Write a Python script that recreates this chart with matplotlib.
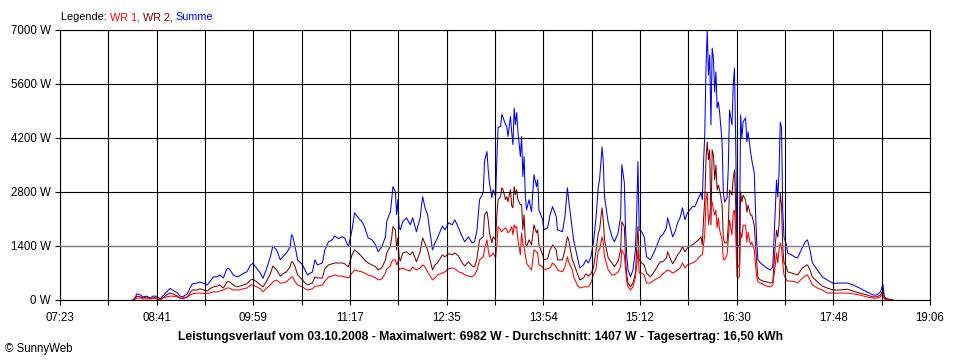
import matplotlib
matplotlib.use("Agg")
import matplotlib.pyplot as plt
import numpy as np

plt.rcParams['font.family'] = ['Liberation Sans', 'DejaVu Sans']

times = [
    "08:22","08:24","08:25","08:28","08:30","08:33","08:36","08:38","08:41","08:44",
    "08:46","08:49","08:52","08:54","08:58","09:00","09:02","09:06","09:08","09:10",
    "09:14","09:16","09:19","09:22","09:24","09:27","09:30","09:32","09:35","09:38",
    "09:40","09:43","09:46","09:48","09:51","09:54","09:57","09:59","10:02","10:05",
    "10:07","10:10","10:13","10:15","10:18","10:21","10:23","10:26","10:29","10:30",
    "10:31","10:33","10:35","10:39","10:41","10:43","10:47","10:49","10:51","10:55",
    "10:57","11:00","11:03","11:05","11:08","11:11","11:13","11:16","11:19","11:21",
    "11:24","11:27","11:29","11:32","11:35","11:38","11:40","11:43","11:46","11:47",
    "11:50","11:51","11:52","11:54","11:55","11:56","11:57","11:58","12:00","12:03",
    "12:06","12:08","12:11","12:14","12:16","12:18","12:20","12:24","12:26","12:28",
    "12:32","12:34","12:37","12:40","12:42","12:45","12:48","12:50","12:53","12:56",
    "12:58","13:00","13:02","13:05","13:06","13:08","13:09","13:10","13:12","13:13",
    "13:15","13:16","13:17","13:19","13:20","13:21","13:23","13:24","13:25","13:27",
    "13:28","13:29","13:30","13:31","13:32","13:33","13:35","13:36","13:37","13:38",
    "13:39","13:40","13:42","13:44","13:46","13:48","13:49","13:50","13:53","13:54",
    "13:57","13:59","14:01","14:04","14:05","14:09","14:11","14:13","14:14","14:17",
    "14:18","14:21","14:23","14:26","14:28","14:30","14:32","14:34","14:36","14:38",
    "14:39","14:41","14:42","14:43","14:46","14:49","14:51","14:54","14:56","14:57",
    "14:59","15:00","15:01","15:02","15:04","15:06","15:08","15:09","15:10","15:11",
    "15:13","15:15","15:17","15:20","15:22","15:25","15:28","15:30","15:33","15:34",
    "15:36","15:38","15:40","15:42","15:44","15:46","15:48","15:50","15:54","15:56",
    "15:59","16:01","16:02","16:03","16:04","16:05","16:06","16:07","16:08","16:09",
    "16:10","16:11","16:12","16:13","16:14","16:15","16:16","16:18","16:19","16:20",
    "16:22","16:23","16:24","16:26","16:27","16:28","16:29","16:30","16:31","16:32",
    "16:33","16:34","16:35","16:37","16:38","16:39","16:41","16:42","16:44","16:45",
    "16:46","16:47","16:49","16:51","16:54","16:57","16:59","17:01","17:02","17:03",
    "17:04","17:05","17:06","17:07","17:08","17:10","17:11","17:14","17:17","17:19",
    "17:23","17:25","17:27","17:29","17:31","17:35","17:39","17:43","17:48","17:53",
    "17:59","18:04","18:09","18:15","18:20","18:23","18:26","18:28","18:29","18:31",
    "18:36",
]

summe = [
    0,80,160,130,80,100,50,100,100,30,
    100,210,300,260,180,100,80,160,310,420,
    440,470,430,390,470,600,600,650,570,820,
    800,650,600,620,690,730,910,950,820,690,
    560,820,1120,1400,1300,1040,1120,1220,1380,1690,
    1660,1380,1040,910,780,650,730,1040,910,960,
    1300,1510,1560,1660,1590,1640,1610,1380,1820,2260,
    2130,2030,1900,1610,1560,1430,1250,1380,1640,2030,
    2290,2600,2940,2810,2210,2600,1900,1820,2030,2130,
    1950,2130,1770,2130,2680,2390,2210,1300,1480,1610,
    1920,1820,2000,1950,2080,1870,1640,1510,1640,1480,
    1510,1820,2600,2780,3590,3850,3380,3040,2650,2860,
    2680,3640,4470,4500,4810,4730,4550,4500,4240,4760,
    4340,4030,4970,4550,4860,4370,3720,4240,3200,3720,
    2680,2340,2600,2290,3250,2940,3120,2340,2080,1820,
    1870,2210,2420,2160,1820,1770,2160,2910,2600,1820,
    1560,1120,830,910,1040,960,1120,1480,2080,2940,
    3120,3970,3560,2680,2000,1640,1510,1740,2160,3510,
    3040,1820,1120,780,600,780,1300,2260,3590,1820,
    1770,1640,1120,1040,1170,1380,1640,1690,1870,2130,
    1900,1640,1770,2000,2130,2390,2080,2260,2420,2420,
    2650,2780,2600,3560,4290,6030,6982,5830,6350,4540,
    6530,6270,5390,5910,4980,5130,4870,4100,2800,2540,
    2650,3420,4930,4540,5570,6010,4100,1480,1370,1430,
    4800,4200,4620,4720,4100,4360,3840,3630,3290,2330,
    1480,1040,960,910,830,780,860,2330,3110,2670,
    3290,4610,4490,2330,1630,1430,1220,1170,1110,1090,
    1370,1500,1560,1300,960,780,600,520,430,440,
    440,390,310,210,130,130,210,410,80,30,
    0,
]

wr1 = [
    0,30,50,50,30,30,30,50,30,0,
    50,80,100,100,80,50,30,80,130,160,
    180,180,170,170,180,210,210,230,260,310,
    310,260,260,260,290,310,390,390,340,290,
    210,310,390,470,520,440,440,470,570,600,
    600,470,390,340,290,260,290,360,360,390,
    490,600,620,650,620,620,600,570,700,780,
    750,730,700,650,620,570,520,550,700,810,
    880,990,1040,1040,910,990,780,810,830,780,
    750,860,780,830,910,860,730,520,570,650,
    700,730,810,830,810,730,700,650,620,600,
    650,780,1040,1120,1300,1560,1300,1120,1170,1220,
    1090,1430,1900,1820,1770,1820,1870,1820,1740,1820,
    1900,1690,1950,1870,1900,1560,1170,1740,1430,1380,
    1170,960,860,780,1300,1250,1220,910,860,780,
    810,830,960,860,780,730,860,1120,990,780,
    600,390,310,340,340,340,440,650,780,1300,
    1300,1640,1480,1120,780,650,650,730,860,1300,
    1170,780,470,340,260,340,600,910,1300,700,
    700,650,440,440,490,550,600,680,750,780,
    750,700,730,780,830,960,830,910,960,990,
    1090,1170,1170,1430,1690,2600,2800,1950,2200,2460,
    2540,2330,2200,2330,1870,2130,1820,1560,1040,1040,
    1170,1560,2070,1690,2280,2330,1760,600,570,600,
    1760,1610,1940,1940,1500,1760,1430,1500,1300,910,
    600,470,440,410,360,340,390,910,1220,960,
    1300,1480,1370,960,650,520,490,490,470,440,
    570,620,650,520,390,310,260,180,180,180,
    180,160,130,80,50,50,80,160,30,0,
    0,
]

wr2 = [
    0,50,100,80,50,80,30,50,80,30,
    50,130,180,160,100,50,50,80,180,260,
    260,290,260,230,290,340,360,390,310,470,
    470,390,340,360,390,420,520,540,470,390,
    340,490,680,880,780,620,680,730,860,990,
    990,860,650,520,440,390,440,600,570,570,
    810,910,940,960,960,960,940,860,1170,1300,
    1220,1120,1040,960,910,860,780,830,1040,1220,
    1400,1610,1900,1820,1300,1610,1120,1010,1220,1250,
    1170,1250,990,1250,1610,1460,1300,780,910,960,
    1170,1120,1200,1170,1220,1140,960,880,990,880,
    860,1090,1560,1640,2210,2290,2080,1740,1480,1640,
    1560,2210,2600,2680,2910,2860,2600,2680,2550,2860,
    2440,2390,2940,2730,2860,2600,2470,2470,1820,2210,
    1510,1380,1560,1430,1950,1740,1820,1430,1170,1040,
    1070,1300,1430,1300,1040,1040,1300,1640,1560,1040,
    960,700,520,570,680,620,680,830,1250,1740,
    1820,2390,2080,1560,1090,960,860,1010,1300,2030,
    1900,1040,650,440,340,440,700,1350,1900,1040,
    960,910,700,600,680,830,990,990,1090,1250,
    1090,940,1040,1170,1250,1380,1250,1350,1430,1480,
    1560,1640,1430,2080,2600,3640,4100,3640,3890,1950,
    3890,3760,3110,3500,2850,2980,2850,2460,1610,1480,
    1480,1950,2850,2720,3160,3370,2460,910,860,910,
    2800,2540,2720,2590,2280,2460,2200,2200,1940,1430,
    960,570,520,490,470,440,470,1430,1810,1630,
    1940,2770,2460,1370,960,860,730,700,670,650,
    830,880,910,780,600,470,360,310,260,260,
    280,230,180,130,80,80,130,260,50,30,
    0,
]

x_tick_labels = ["07:23", "08:41", "09:59", "11:17", "12:35",
                 "13:54", "15:12", "16:30", "17:48", "19:06"]
y_ticks = [0, 1400, 2800, 4200, 5600, 7000]
y_tick_labels = ["0 W", "1400 W", "2800 W", "4200 W", "5600 W", "7000 W"]
average_w = 1407
title = ("Leistungsverlauf vom 03.10.2008 - Maximalwert: 6982 W - "
         "Durchschnitt: 1407 W - Tagesertrag: 16,50 kWh")
legend_parts = [("Legende: ", "#000000"), ("WR 1, ", "#FF0000"),
                ("WR 2, ", "#800000"), ("Summe", "#0000FF")]
copyright_text = "\u00a9 SunnyWeb"


def to_min(s):
    h, m = s.split(":")
    return int(h) * 60 + int(m)


t = np.array([to_min(s) for s in times])
t0 = to_min(x_tick_labels[0])
t1 = to_min(x_tick_labels[-1])

W, H = 960, 360
fig = plt.figure(figsize=(W / 100, H / 100), dpi=100)
ax = fig.add_axes([60 / W, 60 / H, 870 / W, 270 / H])

lw = 0.75
ax.plot(t, summe, color="#0000FF", lw=lw, zorder=2)
ax.plot(t, wr2, color="#800000", lw=lw, zorder=2.1)
ax.plot(t, wr1, color="#FF0000", lw=lw, zorder=2.2)

ax.set_xlim(t0, t1)
ax.set_ylim(0, 7000)

grid_x = np.linspace(t0, t1, 2 * (len(x_tick_labels) - 1) + 1)
for gx in grid_x:
    ax.axvline(gx, color="black", lw=0.8, zorder=3)
for gy in y_ticks:
    ax.axhline(gy, color="black", lw=0.8, zorder=3)
ax.axhline(average_w, color="#808080", lw=0.9, zorder=4)

ax.set_xticks(grid_x[::2])
ax.set_xticklabels(x_tick_labels)
ax.set_xticks(grid_x[1::2], minor=True)
ax.set_yticks(y_ticks)
ax.set_yticklabels(y_tick_labels)
ax.tick_params(axis="both", which="both", direction="out", length=3.6,
               width=0.8, color="black", labelsize=8.3)
ax.tick_params(axis="x", which="major", pad=5)
ax.tick_params(axis="y", pad=3)
for sp in ax.spines.values():
    sp.set_linewidth(0.8)
    sp.set_color("black")

# legend line at the top, each part placed right after the previous one
legend_fs = 7.8
prev = fig.text(61 / W, 1 - 17 / H, legend_parts[0][0],
                color=legend_parts[0][1], fontsize=legend_fs, va="center", ha="left")
for s, c in legend_parts[1:]:
    prev = ax.annotate(s, xy=(1, 0), xycoords=prev, va="bottom", ha="left",
                       color=c, fontsize=legend_fs, annotation_clip=False)

fig.text(480 / W, 1 - 337 / H, title, fontsize=8.7, fontweight="bold",
         ha="center", va="center")
fig.text(5 / W, 1 - 349 / H, copyright_text, fontsize=8.3, ha="left", va="center")

fig.savefig("out.png", dpi=100)
